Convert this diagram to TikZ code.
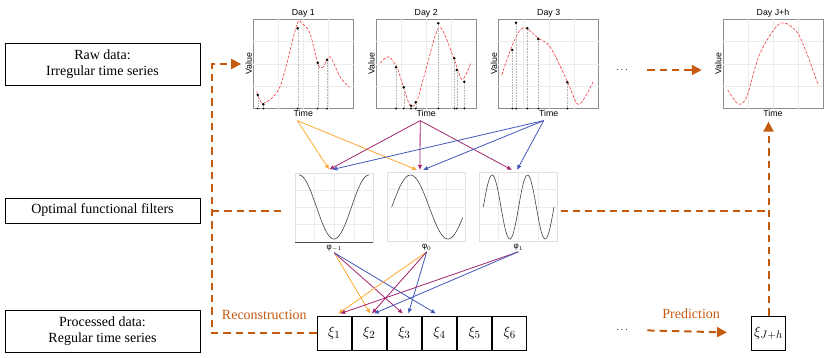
\documentclass[tikz,border=0pt]{standalone}
\usepackage{fontspec}
\setmainfont{Liberation Serif}
\newfontfamily\plotfont{Liberation Sans}
\usetikzlibrary{arrows.meta,positioning,calc}
\definecolor{rust}{HTML}{C55A11}
\definecolor{amber}{HTML}{FFA833}
\definecolor{plum}{HTML}{A3256F}
\definecolor{cobalt}{HTML}{4357B8}
\definecolor{trace}{HTML}{F2393C}

\begin{document}
\begin{tikzpicture}[
  x=1pt, y=-1pt,
  box/.style={draw, line width=0.6pt, minimum width=195pt, align=center, inner sep=2pt,
    font=\fontsize{14}{16}\selectfont},
  frame/.style={draw=black!45, line width=0.5pt, minimum width=100pt, minimum height=89pt, inner sep=0pt},
  filtbox/.style={draw=black!12, line width=0.5pt, minimum width=78pt, minimum height=69pt, inner sep=0pt},
  cell/.style={draw, line width=0.8pt, minimum width=34.3pt, minimum height=34pt, inner sep=0pt,
    font=\fontsize{15}{17}\selectfont},
  axl/.style={font=\plotfont\fontsize{8.8}{10}\selectfont, inner sep=1pt},
  phl/.style={font=\plotfont\fontsize{8}{9}\selectfont, inner sep=1pt},
  gridln/.style={draw=black!8, line width=0.4pt},
  fun/.style={trace, line width=0.6pt, dash pattern=on 3pt off 1.5pt},
  wave/.style={black!75, line width=0.6pt},
  drop/.style={black!30, line width=0.4pt, dash pattern=on 0.8pt off 0.8pt},
  ray/.style={-{Latex[length=5pt, width=4.5pt]}, line width=0.8pt},
  sig/.style={rust, line width=2pt, dash pattern=on 7.3pt off 5pt},
  tip/.style={-{Triangle[length=10pt, width=10pt]}},
  lbl/.style={rust, font=\fontsize{14}{16}\selectfont, inner sep=0pt},
]
  \useasboundingbox (0,0) rectangle (831,357);
  % --- left column ---
  \node[box, minimum height=42pt] (raw) at (102.5,64) {Raw data:\\ Irregular time series};
  \node[box, minimum height=25pt] (filt) at (102.5,210.5) {Optimal functional filters};
  \node[box, minimum height=42pt] (proc) at (102.5,331) {Processed data:\\ Regular time series};
  % --- daily plots ---
  \node[frame] (day1) at (303.3,64) {};
  \node[frame] (day2) at (426.2,64) {};
  \node[frame] (day3) at (548.7,64) {};
  \node[frame] (dayj) at (773,64) {};
  \node[axl, above=1pt of day1] (ttl1) {Day 1};
  \node[axl, above=1pt of day2] (ttl2) {Day 2};
  \node[axl, above=1pt of day3] (ttl3) {Day 3};
  \node[axl, above=1pt of dayj] (ttlj) {Day J+h};
  \node[axl, below=0pt of day1] (time1) {Time};
  \node[axl, below=0pt of day2] (time2) {Time};
  \node[axl, below=0pt of day3] (time3) {Time};
  \node[axl, below=0pt of dayj] (timej) {Time};
  \node[axl, rotate=90, anchor=south] (val1) at (day1.west) {Value};
  \node[axl, rotate=90, anchor=south] (val2) at (day2.west) {Value};
  \node[axl, rotate=90, anchor=south] (val3) at (day3.west) {Value};
  \node[axl, rotate=90, anchor=south] (valj) at (dayj.west) {Value};
  % --- filter plots ---
  \node[filtbox] (fm) at (334.2,207.3) {};
  \node[filtbox] (f0) at (426.7,206.7) {};
  \node[filtbox] (fp) at (518.3,206.7) {};
  \node[phl, below=2pt of fm] (phm) {φ$_{-1}$};
  \node[phl, below=2pt of f0] (ph0) {φ$_{0}$};
  \node[phl, below=2pt of fp] (php) {φ$_{1}$};
  % light grid behind the curves
  \foreach \p in {day1,day2,day3,dayj,fm,f0,fp}
    \foreach \f in {0.25,0.5,0.75} {
      \draw[gridln] ($(\p.south west)!\f!(\p.south east)$) -- ($(\p.north west)!\f!(\p.north east)$);
      \draw[gridln] ($(\p.south west)!\f!(\p.north west)$) -- ($(\p.south east)!\f!(\p.north east)$);
    }
  \draw[black!70, line width=0.7pt] (fm.south west) -- (fm.south east);
  % --- observed values and smoothed curves ---
  \draw[fun] plot[smooth] coordinates {(256.7,91.7) (263.3,103.3) (280,86.7) (296.7,25) (301.7,23.3)
    (310,33.3) (318.3,65) (323.3,66.7) (330,56.7) (340,76.7) (349.3,87.3)};
  \draw[fun] plot[smooth] coordinates {(380,63.3) (388.3,56.7) (396.7,66.7) (403.3,86.7) (410,105)
    (416.7,101.7) (426.7,66.7) (439.3,27.3) (453.3,56.7) (462,79.5) (470.7,63.3)};
  \draw[fun] plot[smooth] coordinates {(501.7,75) (511.7,46.7) (520,30) (526.7,28.3) (538.3,38.3)
    (550,46.7) (566.7,80) (576.7,103.3) (583.3,100) (593.3,81.7)};
  \draw[fun] plot[smooth] coordinates {(727.7,90) (738.3,104) (746.7,96.7) (760,53.3) (780,23.3)
    (796.7,31.7) (806.7,53.3) (818.3,85)};
  \foreach \x/\y in {257.7/95, 263.3/104.3, 297.7/28.3, 317.7/62.7, 327/60,
      396/67.3, 403.7/87.3, 411/105.7, 415.7/102.3, 438.3/23.3, 454.3/58.3, 456.7/70, 464.3/81.7,
      512.3/50, 516/22.7, 527.3/28.3, 538.3/39, 567.3/82.3} {
    \draw[drop] (\x,\y) -- (\x,108.5);
    \fill (\x,\y) circle (1.4);
    \fill (\x,108.5) circle (1);
  }
  \draw[wave] plot[domain=299:369, samples=60] (\x, {207-32*cos((\x-299)/70*360)});
  \draw[wave] plot[domain=391.7:462.7, samples=60] (\x, {207-32*sin((\x-391.7)/75*360)});
  \draw[wave] plot[domain=483.3:554, samples=80] (\x, {207-32*sin((\x-483.3)/35.35*360)});
  % --- regular series ---
  \node[cell] (x1) at (334.2,333) {$\xi_1$};
  \node[cell, right=0pt of x1] (x2) {$\xi_2$};
  \node[cell, right=0pt of x2] (x3) {$\xi_3$};
  \node[cell, right=0pt of x3] (x4) {$\xi_4$};
  \node[cell, right=0pt of x4] (x5) {$\xi_5$};
  \node[cell, right=0pt of x5] (x6) {$\xi_6$};
  \node[cell] (xj) at (768.5,333) {$\xi_{J+h}$};
  \node (dotsa) at (622,70) {$\cdots$};
  \node (dotsb) at (622,330) {$\cdots$};
  % --- days into filters ---
  \draw[ray, amber] ($(time1.south)+(-6,3)$) -- ($(fm.north)+(-5,-3)$);
  \draw[ray, amber] ($(time1.south)+(-6,3)$) -- ($(f0.north)+(-9.7,-2)$);
  \draw[ray, plum] ($(time2.south)+(-6,3)$) -- ($(fm.north)+(-5,-3)$);
  \draw[ray, plum] ($(time2.south)+(-6,3)$) -- ($(f0.north)+(-6.7,-2)$);
  \draw[ray, plum] ($(time2.south)+(-6,3)$) -- ($(fp.north)+(-6.3,-2)$);
  \draw[ray, cobalt] ($(time3.south)+(-5,3)$) -- ($(fm.north)+(-2,-3)$);
  \draw[ray, cobalt] ($(time3.south)+(-5,3)$) -- ($(f0.north)+(-3.7,-2)$);
  \draw[ray, cobalt] ($(time3.south)+(-5,3)$) -- ($(fp.north)+(-1.3,-2)$);
  % --- filters into the regular series ---
  \draw[ray, amber] (phm.south) -- ($(x2.north)+(1,-2)$);
  \draw[ray, plum] (phm.south) -- ($(x3.north)+(-1.5,-2)$);
  \draw[ray, cobalt] (phm.south) -- ($(x4.north)+(-3.5,-2)$);
  \draw[ray, amber] (ph0.south) -- ($(x1.north)+(4,-2)$);
  \draw[ray, plum] (ph0.south) -- ($(x2.north)+(2.5,-2)$);
  \draw[ray, cobalt] (ph0.south) -- ($(x3.north)+(4,-2)$);
  \draw[ray, plum] (php.south) -- ($(x1.north)+(6,-2)$);
  \draw[ray, cobalt] (php.south) -- ($(x2.north)+(4.5,-2)$);
  % --- reconstruction lane on the left ---
  \coordinate (lane) at (212,333);
  \draw[sig, tip, shorten >=3pt] (x1.west) -- node[lbl, above=12pt] {Reconstruction}
    (lane) |- (val1.north);
  \draw[sig] (lane |- filt.east) -- ($(fm.west |- filt.east)+(-12,0)$);
  % --- prediction ---
  \draw[sig, tip, shorten <=16pt, shorten >=21pt] (dotsa.east) -- (dayj.west |- dotsa);
  \draw[sig, tip, shorten <=16pt, shorten >=24pt] (dotsb.east) -- node[lbl, above=12pt] {Prediction} (xj.west);
  \draw[sig] ($(fp.east |- filt.east)+(3,0)$) -- (xj.north |- filt.east);
  \draw[sig, tip, shorten >=4pt] (xj.north) -- (xj.north |- timej.south);
\end{tikzpicture}
\end{document}
